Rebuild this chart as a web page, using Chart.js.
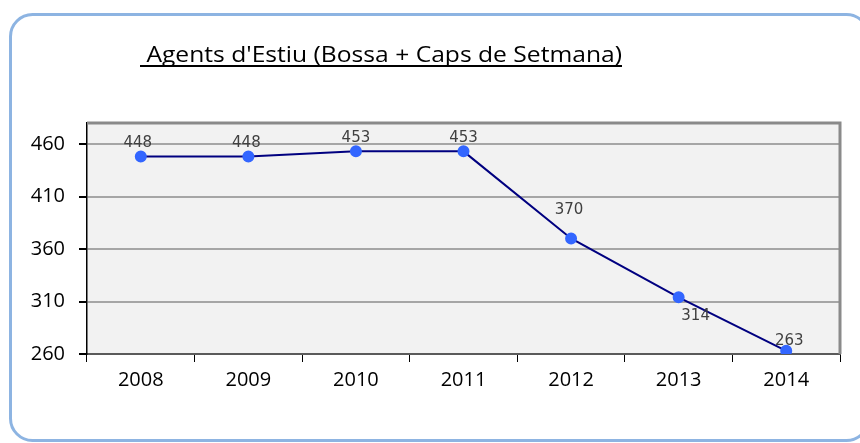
<!DOCTYPE html>
<html>
<head>
<meta charset="utf-8">
<script src="https://cdn.jsdelivr.net/npm/chart.js@4/dist/chart.umd.min.js"></script>
<style>
  html, body { margin: 0; padding: 0; background: #fff; overflow: hidden; }
  #wrap { width: 860px; height: 443px; position: relative; }
</style>
</head>
<body>
<div id="wrap"><canvas id="agentsChart"></canvas></div>
<script>
const years = ['2008', '2009', '2010', '2011', '2012', '2013', '2014'];
const agents = [448, 448, 453, 453, 370, 314, 263];
const yTicks = [260, 310, 360, 410, 460];
const chartTitle = " Agents d'Estiu (Bossa + Caps de Setmana)";

// where each value label sits relative to its point (dx, dy)
const labelOffsets = [[-3, -13], [-2, -13], [0, -13], [0, -13], [-2, -28], [17, 19], [3, -10]];

const frame = {
    id: 'frame',
    beforeDraw(chart) {
        const { ctx, chartArea: a } = chart;
        ctx.save();
        // outer rounded border, runs off the right edge
        ctx.strokeStyle = '#8db4e2';
        ctx.lineWidth = 3;
        ctx.beginPath();
        ctx.roundRect(10.5, 14.5, 858, 426, 22);
        ctx.stroke();
        // plot background
        ctx.fillStyle = '#f2f2f2';
        ctx.fillRect(a.left, a.top, a.right - a.left, a.bottom - a.top);
        ctx.restore();
    },
    afterDatasetsDraw(chart) {
        const { ctx, chartArea: a } = chart;
        ctx.save();
        // plot border (top and right)
        ctx.strokeStyle = '#8a8a8a';
        ctx.lineWidth = 3;
        ctx.beginPath();
        ctx.moveTo(a.left, a.top);
        ctx.lineTo(a.right, a.top);
        ctx.lineTo(a.right, a.bottom);
        ctx.stroke();

        // value labels
        const meta = chart.getDatasetMeta(0);
        ctx.font = '15px "DejaVu Sans"';
        ctx.fillStyle = '#404040';
        ctx.textAlign = 'center';
        ctx.textBaseline = 'middle';
        meta.data.forEach((pt, i) => {
            const off = labelOffsets[i];
            ctx.fillText(String(agents[i]), pt.x + off[0], pt.y + off[1]);
        });

        // title, underlined
        ctx.font = '21px "Open Sans"';
        ctx.fillStyle = '#000';
        ctx.textAlign = 'left';
        ctx.textBaseline = 'alphabetic';
        const w = ctx.measureText(chartTitle).width;
        const target = 482;
        ctx.save();
        ctx.translate(140, 62);
        ctx.scale(target / w, 1);
        ctx.fillText(chartTitle, 0, 0);
        ctx.restore();
        ctx.fillRect(140, 65, target, 2);
        ctx.restore();
    }
};

new Chart(document.getElementById('agentsChart'), {
    type: 'line',
    data: {
        labels: years,
        datasets: [{
            label: 'Agents',
            data: agents,
            borderColor: '#000080',
            borderWidth: 2,
            pointBackgroundColor: '#3366ff',
            pointBorderColor: '#3366ff',
            pointRadius: 5,
            tension: 0
        }]
    },
    options: {
        responsive: true,
        maintainAspectRatio: false,
        animation: false,
        layout: { padding: { top: 123, right: 20, bottom: 39, left: 0 } },
        plugins: {
            legend: { display: false },
            tooltip: { enabled: false }
        },
        scales: {
            x: {
                offset: true,
                grid: {
                    offset: true,
                    drawOnChartArea: false,
                    color: '#000',
                    tickLength: 8
                },
                border: { color: '#5a5a5a', width: 2 },
                ticks: {
                    color: '#000',
                    font: { family: 'Open Sans', size: 20 },
                    padding: 6,
                    maxRotation: 0
                },
                afterFit(scale) { scale.height = 50; }
            },
            y: {
                min: 260,
                max: 480,
                afterBuildTicks(scale) {
                    scale.ticks = yTicks.map(v => ({ value: v }));
                },
                grid: {
                    color: '#a6a6a6',
                    lineWidth: 2,
                    tickColor: '#000',
                    tickLength: 8
                },
                border: { color: '#000', width: 1.5 },
                ticks: {
                    color: '#000',
                    font: { family: 'Open Sans', size: 20 },
                    padding: 14
                },
                afterFit(scale) { scale.width = 87; }
            }
        }
    },
    plugins: [frame]
});
</script>
</body>
</html>
